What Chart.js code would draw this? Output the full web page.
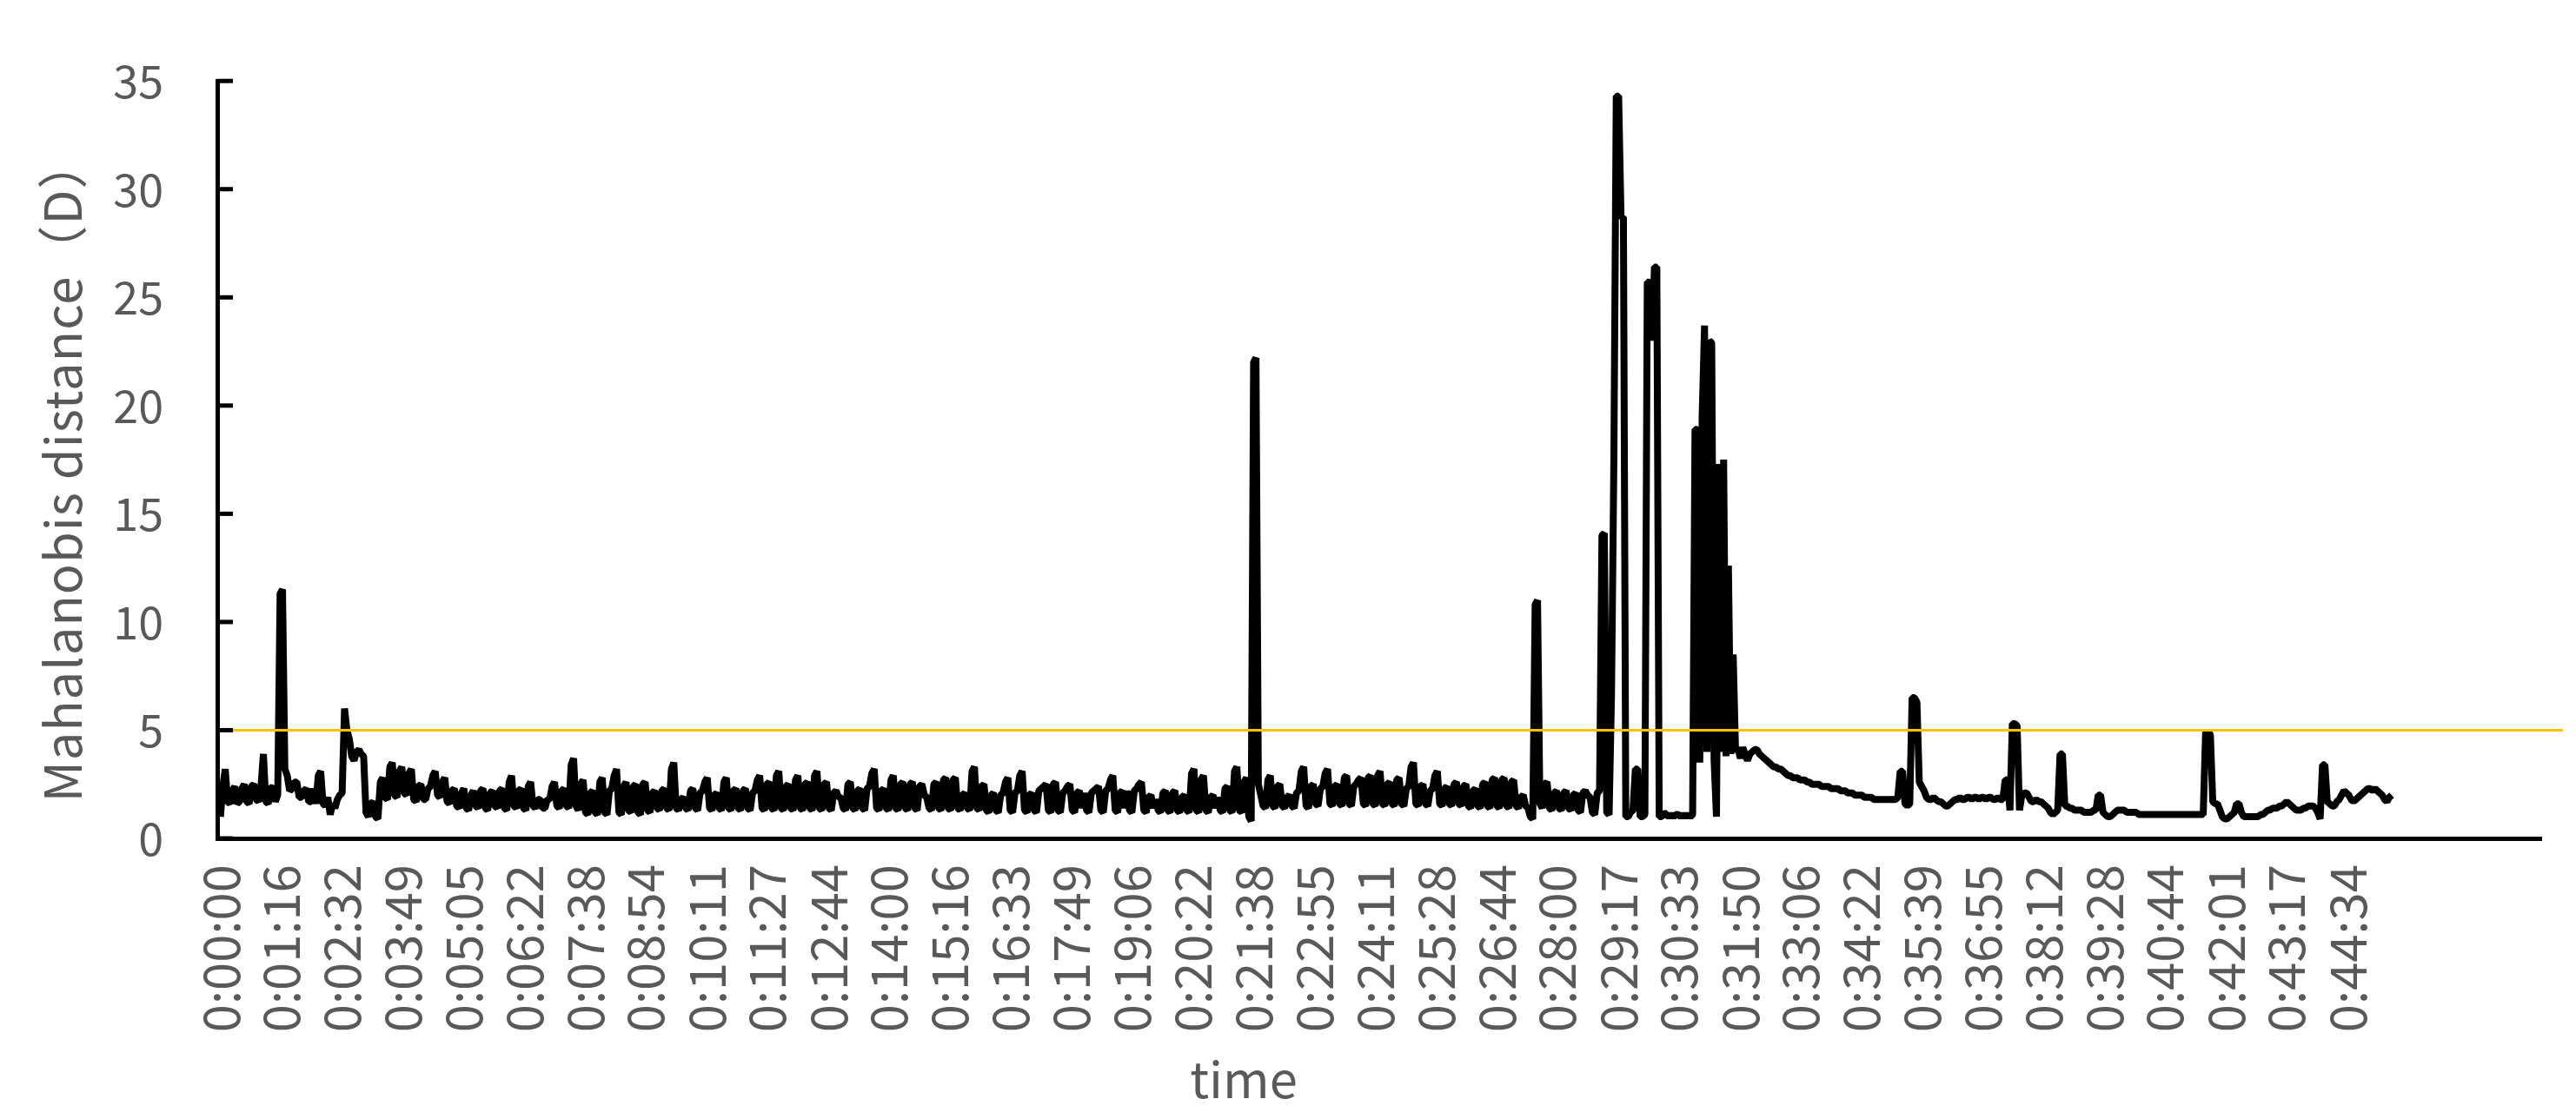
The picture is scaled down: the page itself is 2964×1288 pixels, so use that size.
<!DOCTYPE html>
<html>
<head>
<meta charset="utf-8">
<script src="https://cdn.jsdelivr.net/npm/chart.js@4.4.1/dist/chart.umd.min.js"></script>
<style>
  html, body { margin: 0; padding: 0; background: #fff; }
  #wrap { width: 2964px; height: 1288px; }
</style>
</head>
<body>
<div id="wrap"><canvas id="chart" width="2964" height="1288"></canvas></div>
<script>
// one reading every 3 seconds, first one at 0:00:00
const SAMPLE_STEP = 3;

// Mahalanobis distance D (one row = 1 minute)
const distance = [
  1.0, 2.4, 3.2, 1.7, 1.6, 2.2, 2.4, 1.6, 1.7, 2.3, 2.5, 1.7, 1.6, 2.4, 2.5, 1.8, 1.7, 2.4, 3.9, 1.7,
  1.6, 2.3, 2.4, 1.7, 2.0, 11.3, 11.5, 3.2, 2.9, 2.2, 2.3, 2.6, 2.6, 1.9, 1.9, 2.2, 2.3, 1.7, 1.7, 2.3,
  1.6, 2.9, 3.1, 1.6, 1.5, 1.9, 1.1, 1.6, 1.4, 1.8, 2.0, 2.1, 6.0, 5.0, 4.6, 3.8, 3.6, 4.0, 4.1, 3.9,
  3.8, 1.2, 1.0, 1.6, 1.7, 1.0, 0.9, 2.6, 2.8, 1.9, 1.8, 3.3, 3.5, 2.0, 1.9, 3.1, 3.3, 2.1, 2.0, 3.0,
  3.2, 1.8, 1.7, 2.4, 2.5, 1.8, 1.8, 2.3, 2.4, 2.9, 3.1, 2.0, 1.9, 2.6, 2.8, 1.7, 1.6, 2.2, 2.3, 1.5,
  1.4, 2.1, 2.3, 1.4, 1.3, 2.0, 2.2, 1.5, 1.4, 2.2, 2.3, 1.4, 1.3, 2.1, 2.2, 1.5, 1.4, 2.2, 2.3, 1.4,
  1.3, 2.6, 2.9, 1.5, 1.4, 2.2, 2.3, 1.4, 1.3, 2.4, 2.6, 1.5, 1.4, 1.8, 1.8, 1.4, 1.4, 1.8, 1.8, 2.4,
  2.6, 1.5, 1.4, 2.2, 2.3, 1.5, 1.4, 3.4, 3.7, 1.5, 1.3, 2.5, 2.7, 1.2, 1.1, 2.1, 2.2, 1.2, 1.1, 2.6,
  2.8, 1.2, 1.1, 2.2, 2.3, 2.9, 3.2, 1.2, 1.1, 2.4, 2.6, 1.3, 1.2, 2.4, 2.5, 1.2, 1.1, 2.5, 2.6, 1.3,
  1.2, 2.1, 2.2, 1.4, 1.3, 2.2, 2.3, 1.4, 1.3, 3.2, 3.5, 1.4, 1.3, 1.8, 1.9, 1.4, 1.3, 2.2, 2.3, 1.4,
  1.3, 2.1, 2.2, 2.6, 2.8, 1.4, 1.3, 2.0, 2.1, 1.4, 1.3, 2.6, 2.8, 1.4, 1.3, 2.2, 2.3, 1.4, 1.3, 2.2,
  2.3, 1.4, 1.3, 2.1, 2.2, 2.7, 2.9, 1.4, 1.3, 2.5, 2.6, 1.4, 1.3, 2.9, 3.1, 1.4, 1.3, 2.4, 2.5, 1.4,
  1.3, 2.7, 2.9, 1.4, 1.3, 2.5, 2.6, 1.4, 1.3, 2.9, 3.1, 1.4, 1.3, 2.5, 2.6, 1.4, 1.3, 2.1, 2.2, 1.9,
  1.9, 1.4, 1.3, 2.5, 2.6, 1.4, 1.3, 2.2, 2.3, 1.4, 1.3, 2.3, 2.4, 3.0, 3.2, 1.4, 1.3, 2.2, 2.3, 1.4,
  1.3, 2.7, 2.9, 1.4, 1.3, 2.5, 2.6, 1.4, 1.3, 2.5, 2.6, 1.4, 1.3, 2.4, 2.5, 2.0, 1.9, 1.4, 1.3, 2.5,
  2.6, 1.4, 1.3, 2.7, 2.8, 1.4, 1.3, 2.7, 2.8, 1.4, 1.3, 2.0, 2.1, 1.4, 1.3, 3.1, 3.3, 1.4, 1.3, 2.4,
  2.5, 1.3, 1.2, 2.0, 2.1, 1.3, 1.2, 2.0, 2.1, 2.6, 2.8, 1.3, 1.2, 2.1, 2.2, 2.9, 3.1, 1.3, 1.2, 2.0,
  2.1, 1.3, 1.2, 2.2, 2.3, 2.4, 2.5, 1.3, 1.2, 2.5, 2.6, 1.3, 1.2, 2.1, 2.2, 2.4, 2.5, 1.3, 1.2, 2.1,
  2.2, 1.4, 2.1, 1.3, 1.2, 2.1, 2.2, 2.3, 2.4, 1.3, 1.2, 2.2, 2.3, 2.7, 2.9, 1.3, 1.2, 2.1, 2.2, 1.4,
  2.2, 1.3, 1.2, 2.2, 2.3, 2.5, 2.6, 1.3, 1.2, 1.9, 2.0, 1.4, 1.8, 1.3, 1.2, 2.1, 2.2, 1.3, 1.2, 2.1,
  2.2, 1.3, 1.2, 1.9, 2.0, 1.3, 1.2, 3.0, 3.2, 1.3, 1.2, 2.7, 2.9, 1.3, 1.2, 1.9, 2.0, 1.4, 1.9, 1.3,
  1.2, 2.3, 2.4, 1.3, 1.2, 3.1, 3.3, 1.3, 1.2, 2.6, 2.8, 1.0, 0.8, 22.0, 22.2, 2.5, 2.0, 1.5, 1.4, 2.7,
  2.9, 1.5, 1.4, 2.4, 2.5, 1.5, 1.4, 1.9, 2.0, 1.5, 1.4, 2.1, 2.2, 3.1, 3.3, 1.5, 1.4, 2.4, 2.5, 1.6,
  1.5, 2.3, 2.4, 3.0, 3.2, 1.6, 1.5, 2.4, 2.5, 1.6, 1.5, 2.8, 2.9, 1.6, 1.5, 2.4, 2.5, 2.7, 2.8, 1.6,
  1.5, 2.8, 2.9, 1.6, 1.5, 2.9, 3.1, 1.6, 1.5, 2.5, 2.6, 1.6, 1.5, 2.7, 2.8, 1.6, 1.5, 2.3, 2.4, 3.3,
  3.5, 1.6, 1.5, 2.4, 2.5, 1.6, 1.5, 2.2, 2.3, 2.9, 3.1, 1.6, 1.5, 2.3, 2.4, 1.6, 1.5, 2.5, 2.6, 1.6,
  1.5, 2.4, 2.5, 1.5, 1.4, 2.2, 2.3, 1.5, 1.4, 2.5, 2.6, 1.5, 1.4, 2.7, 2.8, 1.5, 1.4, 2.7, 2.8, 1.5,
  1.4, 2.6, 2.7, 1.5, 1.4, 1.9, 2.0, 1.5, 1.4, 1.0, 0.9, 10.8, 11.0, 1.6, 1.4, 2.5, 2.6, 1.4, 1.3, 2.1,
  2.2, 1.4, 1.3, 2.1, 2.2, 1.4, 1.3, 2.0, 2.1, 1.3, 1.2, 2.1, 2.2, 2.0, 1.9, 1.2, 1.1, 2.1, 2.2, 14.0,
  14.1, 1.2, 1.1, 6.6, 17.5, 34.3, 34.3, 28.7, 28.7, 1.0, 1.0, 1.2, 1.3, 3.2, 3.2, 1.0, 1.0, 1.1, 25.7, 25.7,
  23.0, 26.4, 26.4, 1.0, 1.0, 1.2, 1.1, 1.0, 1.1, 1.0, 1.1, 1.1, 1.0, 1.1, 1.0, 1.1, 1.0, 1.1, 18.9, 18.9,
  3.5, 19.5, 23.7, 4.0, 23.0, 22.9, 3.6, 1.0, 17.3, 4.0, 17.5, 3.8, 12.6, 3.9, 8.5, 4.0, 4.2, 3.7, 4.2, 3.9,
  3.6, 3.9, 4.0, 4.1, 4.1, 3.9, 3.8, 3.7, 3.6, 3.5, 3.4, 3.3, 3.3, 3.2, 3.2, 3.1, 3.0, 2.9, 2.9, 2.8,
  2.8, 2.8, 2.7, 2.7, 2.7, 2.6, 2.6, 2.5, 2.5, 2.5, 2.5, 2.4, 2.4, 2.4, 2.4, 2.3, 2.3, 2.3, 2.3, 2.2,
  2.2, 2.2, 2.1, 2.1, 2.1, 2.0, 2.0, 2.0, 2.0, 1.9, 1.9, 1.9, 1.9, 1.8, 1.8, 1.8, 1.8, 1.8, 1.8, 1.8,
  1.8, 1.8, 1.8, 1.9, 3.1, 3.1, 1.6, 1.5, 1.6, 6.5, 6.5, 6.3, 2.6, 2.4, 2.2, 1.9, 1.8, 1.8, 1.9, 1.8,
  1.7, 1.7, 1.6, 1.5, 1.5, 1.6, 1.7, 1.8, 1.8, 1.9, 1.8, 1.8, 1.9, 1.9, 1.8, 1.9, 1.9, 1.8, 1.9, 1.9,
  1.8, 1.9, 1.9, 1.8, 1.8, 1.9, 1.8, 1.8, 2.7, 2.7, 1.3, 5.3, 5.3, 5.2, 1.3, 2.0, 2.1, 2.1, 1.9, 1.7,
  1.7, 1.8, 1.7, 1.7, 1.6, 1.5, 1.4, 1.2, 1.1, 1.2, 1.3, 3.9, 3.9, 1.5, 1.5, 1.4, 1.4, 1.3, 1.3, 1.3,
  1.3, 1.2, 1.2, 1.2, 1.2, 1.3, 1.3, 2.0, 2.0, 1.2, 1.1, 1.0, 1.0, 1.1, 1.2, 1.3, 1.3, 1.3, 1.3, 1.2,
  1.2, 1.2, 1.2, 1.2, 1.1, 1.1, 1.1, 1.1, 1.1, 1.1, 1.1, 1.1, 1.1, 1.1, 1.1, 1.1, 1.1, 1.1, 1.1, 1.1,
  1.1, 1.1, 1.1, 1.1, 1.1, 1.1, 1.1, 1.1, 1.1, 1.1, 1.1, 1.1, 4.9, 4.9, 4.8, 1.7, 1.6, 1.6, 1.3, 1.0,
  0.9, 0.9, 1.0, 1.1, 1.2, 1.6, 1.6, 1.2, 1.0, 1.0, 1.0, 1.0, 1.0, 1.0, 1.0, 1.1, 1.1, 1.2, 1.3, 1.3,
  1.4, 1.4, 1.4, 1.5, 1.5, 1.6, 1.7, 1.6, 1.5, 1.4, 1.3, 1.3, 1.3, 1.4, 1.4, 1.5, 1.5, 1.5, 1.4, 1.2,
  0.9, 3.4, 3.4, 1.7, 1.6, 1.5, 1.5, 1.7, 1.8, 2.0, 2.2, 2.1, 2.0, 1.8, 1.7, 1.8, 1.9, 2.0, 2.1, 2.2,
  2.3, 2.3, 2.2, 2.3, 2.2, 2.1, 2.0, 1.8, 1.7, 1.9, 2.0
];

// threshold line D = 5
const thresholdTimes = [-4, 2945];
const thresholdValues = [5, 5];

const tickLabels = [
  '0:00:00', '0:01:16', '0:02:32', '0:03:49', '0:05:05', '0:06:22', '0:07:38', '0:08:54',
  '0:10:11', '0:11:27', '0:12:44', '0:14:00', '0:15:16', '0:16:33', '0:17:49', '0:19:06',
  '0:20:22', '0:21:38', '0:22:55', '0:24:11', '0:25:28', '0:26:44', '0:28:00', '0:29:17',
  '0:30:33', '0:31:50', '0:33:06', '0:34:22', '0:35:39', '0:36:55', '0:38:12', '0:39:28',
  '0:40:44', '0:42:01', '0:43:17', '0:44:34'
];

const yTitle = 'Mahalanobis distance（D）';
const xTitle = 'time';

const FONT = '"Noto Sans CJK SC", "Noto Sans", sans-serif';
const GREY = '#595959';

function toSeconds(label) {
  const [h, m, s] = label.split(':').map(Number);
  return h * 3600 + m * 60 + s;
}

// inward tick marks on the y axis + both axis titles
const axisExtras = {
  id: 'axisExtras',
  afterDraw(chart) {
    const { ctx, chartArea, scales: { y } } = chart;
    ctx.save();
    ctx.strokeStyle = '#000';
    ctx.lineWidth = 5;
    y.ticks.forEach(t => {
      const py = y.getPixelForValue(t.value);
      ctx.beginPath();
      ctx.moveTo(chartArea.left, py);
      ctx.lineTo(chartArea.left + 18, py);
      ctx.stroke();
    });

    ctx.fillStyle = GREY;
    ctx.font = '58px ' + FONT;
    ctx.textAlign = 'center';
    ctx.textBaseline = 'middle';
    ctx.fillText(xTitle, 1431, 1242);

    ctx.translate(72, 541);
    ctx.rotate(-Math.PI / 2);
    ctx.letterSpacing = '1px';
    ctx.fillText(yTitle, 0, 0);
    ctx.restore();
  }
};

new Chart(document.getElementById('chart'), {
  type: 'line',
  data: {
    datasets: [{
      label: 'threshold',
      data: thresholdTimes.map((t, i) => ({ x: t, y: thresholdValues[i] })),
      borderColor: '#FFC000',
      borderWidth: 3,
      pointRadius: 0,
      clip: false,
      order: 0
    }, {
      label: 'D',
      data: distance.map((v, i) => ({ x: i * SAMPLE_STEP, y: v })),
      borderColor: '#000',
      borderWidth: 8,
      borderJoinStyle: 'bevel',
      pointRadius: 0,
      tension: 0,
      order: 1
    }]
  },
  options: {
    responsive: false,
    devicePixelRatio: 1,
    animation: false,
    layout: { padding: { top: 86, right: 40, left: 0, bottom: 0 } },
    plugins: { legend: { display: false }, tooltip: { enabled: false } },
    scales: {
      x: {
        type: 'linear',
        min: -4,
        max: 2918,
        afterFit: s => { s.height = 323; },
        afterBuildTicks: s => { s.ticks = tickLabels.map(l => ({ value: toSeconds(l) })); },
        grid: { display: false, drawTicks: false },
        border: { display: true, color: '#000', width: 5 },
        ticks: {
          autoSkip: false,
          minRotation: 90,
          maxRotation: 90,
          padding: 30,
          color: GREY,
          font: { family: FONT, size: 58 },
          callback: (v, i) => tickLabels[i]
        }
      },
      y: {
        min: 0,
        max: 35,
        afterFit: s => { s.width = 250; },
        grid: { display: false, drawTicks: false },
        border: { display: true, color: '#000', width: 5 },
        ticks: { stepSize: 5, padding: 62, color: GREY, font: { family: FONT, size: 52 } }
      }
    }
  },
  plugins: [axisExtras]
});
</script>
</body>
</html>
